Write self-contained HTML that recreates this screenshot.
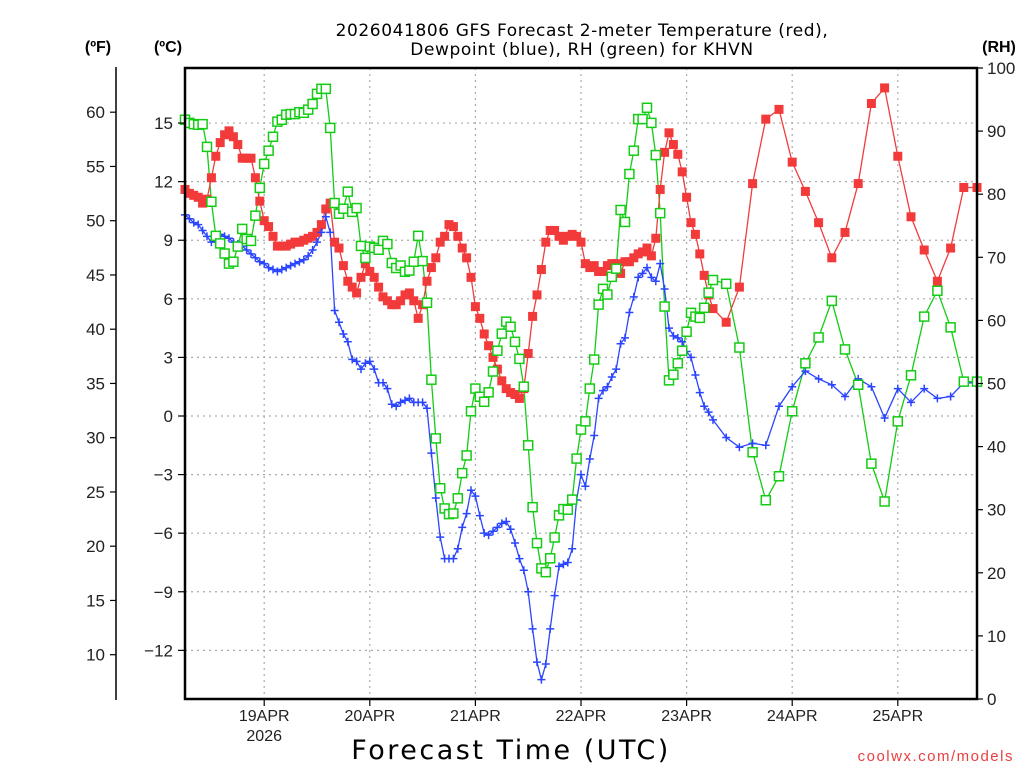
<!DOCTYPE html>
<html><head><meta charset="utf-8">
<style>
html,body{margin:0;padding:0;background:#fff;}
svg{display:block;font-family:"Liberation Sans",sans-serif;}
</style></head>
<body>
<svg id="chart" width="1024" height="768" viewBox="0 0 1024 768" xmlns="http://www.w3.org/2000/svg">
<g id="grid"></g>
<g id="series"></g>
<g id="axes"></g>
<text x="582" y="36" text-anchor="middle" font-size="17" font-family="'DejaVu Sans',sans-serif" letter-spacing="0.6" fill="#000">2026041806 GFS Forecast 2-meter Temperature (red),</text>
<text x="582" y="55" text-anchor="middle" font-size="17" font-family="'DejaVu Sans',sans-serif" letter-spacing="0.6" fill="#000">Dewpoint (blue), RH (green) for KHVN</text>
<text x="98" y="52" text-anchor="middle" font-size="16" font-weight="bold">(ºF)</text>
<text x="168" y="52" text-anchor="middle" font-size="16" font-weight="bold">(ºC)</text>
<text x="999" y="52" text-anchor="middle" font-size="16" font-weight="bold">(RH)</text>
<text x="511" y="759" text-anchor="middle" font-size="27" font-family="'DejaVu Sans',sans-serif" letter-spacing="2.5">Forecast Time (UTC)</text>
<text x="1014" y="761" text-anchor="end" font-size="15" fill="#e84040" letter-spacing="1.5">coolwx.com/models</text>
</svg>
<script>
const tempC=[11.6,11.4,11.3,11.2,10.9,11.1,12.2,13.3,14.0,14.4,14.6,14.3,13.9,13.2,13.2,13.2,12.2,11.0,10.0,9.7,9.2,8.7,8.7,8.7,8.8,8.9,8.9,9.0,9.1,9.2,9.4,9.8,10.6,10.9,8.9,8.6,7.7,6.9,6.6,6.3,7.1,7.8,7.4,7.1,6.6,6.1,5.9,5.7,5.7,5.9,6.2,6.3,5.9,5.0,5.7,6.9,7.6,8.1,8.9,9.2,9.8,9.7,9.2,8.6,8.1,7.1,5.6,5.0,4.2,3.6,3.0,2.4,1.8,1.4,1.2,1.1,0.9,1.4,3.2,5.1,6.2,7.5,8.9,9.5,9.5,9.2,9.0,9.2,9.3,9.2,8.9,7.8,7.6,7.7,7.4,7.4,7.7,7.8,7.8,7.3,7.9,7.9,8.1,8.3,8.4,8.6,8.2,9.1,11.6,13.5,14.5,13.9,13.4,12.5,11.2,9.9,9.3,8.3,7.2,6.2,5.5,
4.8,6.6,11.9,15.2,15.7,13.0,11.5,9.9,8.1,9.4,11.9,16.0,16.8,13.3,10.2,8.5,6.9,8.6,11.7,11.7];
const dewC=[10.3,10.1,9.9,9.8,9.5,9.2,8.9,9.0,9.3,9.2,9.1,8.9,8.8,8.7,8.5,8.3,8.1,7.9,7.8,7.6,7.5,7.4,7.5,7.6,7.7,7.8,7.9,8.0,8.2,8.5,8.9,9.4,10.2,9.4,5.4,4.8,4.2,3.8,2.9,2.8,2.4,2.7,2.8,2.4,1.7,1.7,1.4,0.6,0.5,0.7,0.8,0.9,0.7,0.7,0.7,0.4,-1.9,-4.2,-6.2,-7.3,-7.3,-7.3,-6.8,-5.7,-5.0,-3.8,-4.1,-5.1,-6.0,-6.1,-5.9,-5.7,-5.5,-5.4,-5.8,-6.5,-7.3,-7.9,-9.0,-10.9,-12.6,-13.5,-12.7,-10.9,-9.2,-7.7,-7.6,-7.5,-6.8,-4.3,-3.0,-3.6,-2.2,-1.0,0.9,1.3,1.5,2.0,2.4,3.7,4.0,5.3,6.1,7.1,7.3,7.6,7.1,6.9,7.8,6.5,4.5,4.1,4.0,3.8,3.3,3.0,2.1,1.2,0.5,0.2,-0.2,
-1.1,-1.6,-1.4,-1.5,0.5,1.5,2.3,1.9,1.6,1.0,1.9,1.5,-0.1,1.4,0.7,1.4,0.9,1.0,1.7,1.7];
const rhPct=[91.8,91.3,91.1,91.0,91.1,87.5,78.8,73.4,72.2,70.6,69.0,69.3,71.7,74.5,72.9,72.6,76.6,81.0,84.8,86.9,89.1,91.5,91.8,92.6,92.7,92.7,93.0,92.9,93.4,94.3,95.9,96.7,96.7,90.5,78.6,76.9,77.7,80.4,77.2,77.8,71.8,69.9,71.7,71.5,71.2,72.6,72.1,69.1,68.3,68.7,67.7,67.9,69.3,73.4,69.4,62.8,50.6,41.3,33.4,30.2,29.3,29.4,31.8,35.8,38.6,45.6,49.2,47.9,47.1,48.6,51.9,55.2,57.9,59.8,59.0,56.6,53.9,49.5,40.2,30.4,24.7,20.7,20.1,22.3,25.6,29.1,30.1,30.0,31.6,38.1,42.7,44.0,49.2,53.8,62.5,65.0,64.1,66.9,68.2,77.5,75.6,83.2,86.9,91.9,91.9,93.7,91.3,86.2,77.0,62.2,50.5,51.4,53.2,55.2,58.2,61.2,60.6,60.4,62.0,64.4,66.4,
65.8,55.7,39.1,31.5,35.3,45.6,53.2,57.3,63.1,55.4,49.8,37.3,31.3,44.0,51.3,60.6,64.7,58.9,50.3,50.3];
const dayLabels=["19APR","20APR","21APR","22APR","23APR","24APR","25APR"];
const dayHours=[18,42,66,90,114,138,162];
const cTicks=[15,12,9,6,3,0,-3,-6,-9,-12];
const fTicks=[60,55,50,45,40,35,30,25,20,15,10];
const rhTicks=[0,10,20,30,40,50,60,70,80,90,100];
const hours=[];
for(let h=0;h<=120;h++)hours.push(h);
for(let h=123;h<=180;h+=3)hours.push(h);

const NS="http://www.w3.org/2000/svg";
const L=185,R=977,T=68,B=699;
const xs=h=>L+h*(R-L)/180;
const yC=c=>416-c*19.53;
const yF=f=>yC((f-32)/1.8);
const yRH=r=>B-r*(B-T)/100;
function mk(tag,attrs,parent){const e=document.createElementNS(NS,tag);for(const k in attrs)e.setAttribute(k,attrs[k]);parent.appendChild(e);return e;}
const grid=document.getElementById('grid'),ser=document.getElementById('series'),ax=document.getElementById('axes');

cTicks.forEach(c=>{
  const l=mk('line',{x1:L,x2:R,y1:yC(c),y2:yC(c),stroke:'#aaa','stroke-width':1.2,'stroke-dasharray':'2,4'},grid);
  
  
  const t=mk('line',{x1:L-7,x2:L,y1:yC(c),y2:yC(c),stroke:'#000','stroke-width':1.2},ax);
  
  
  const tx=mk('text',{x:173,y:yC(c)+6,'text-anchor':'end','font-size':17,fill:'#222'},ax);
  tx.textContent=(c<0?'\u2212':'')+Math.abs(c);
  
  
});
dayHours.forEach((h,i)=>{
  const l=mk('line',{x1:xs(h),x2:xs(h),y1:T,y2:B,stroke:'#aaa','stroke-width':1.2,'stroke-dasharray':'2,4'},grid);
  
  
  const t=mk('line',{x1:xs(h),x2:xs(h),y1:B,y2:B+7,stroke:'#000','stroke-width':1.2},ax);
  
  
  const tx=mk('text',{x:xs(h),y:721,'text-anchor':'middle','font-size':16,fill:'#222'},ax);
  tx.textContent=dayLabels[i];
  
  
});
const yr=mk('text',{x:xs(dayHours[0]),y:741,'text-anchor':'middle','font-size':16,fill:'#222'},ax);
yr.textContent='2026';



const fl=mk('line',{x1:116,x2:116,y1:67,y2:700,stroke:'#000','stroke-width':1.5},ax);


fTicks.forEach(f=>{
  const t=mk('line',{x1:110,x2:116,y1:yF(f),y2:yF(f),stroke:'#000','stroke-width':1.2},ax);
  
  
  const tx=mk('text',{x:105,y:yF(f)+6,'text-anchor':'end','font-size':17,fill:'#222'},ax);
  tx.textContent=f;
  
  
});
rhTicks.forEach(r=>{
  const t=mk('line',{x1:R,x2:R+6,y1:yRH(r),y2:yRH(r),stroke:'#000','stroke-width':1.2},ax);
  
  
  const tx=mk('text',{x:987,y:yRH(r)+6,'font-size':17,fill:'#222'},ax);
  tx.textContent=r;
  
  
});
const frame=mk('rect',{x:L,y:T,width:R-L,height:B-T,fill:'none',stroke:'#000','stroke-width':2.5},ax);



function path(vals,yf,color){
  let d='';vals.forEach((v,i)=>{d+=(i?'L':'M')+xs(hours[i]).toFixed(1)+','+yf(v).toFixed(1);});
  return mk('path',{d:d,fill:'none',stroke:color,'stroke-width':1.3},ser);
}
const rp=path(rhPct,yRH,'#14cc14');


const dp=path(dewC,yC,'#2a45ff');


const tp=path(tempC,yC,'#f03c3c');



tempC.forEach((v,i)=>{
  const m=mk('rect',{x:xs(hours[i])-4.5,y:yC(v)-4.5,width:9,height:9,fill:'#f23a3a'},ser);
  
  
});
dewC.forEach((v,i)=>{
  const x=xs(hours[i]),y=yC(v);
  const m=mk('path',{d:`M${x-4},${y}H${x+4}M${x},${y-4}V${y+4}`,stroke:'#2a45ff','stroke-width':1.5,fill:'none'},ser);
  
  
});
rhPct.forEach((v,i)=>{
  const m=mk('rect',{x:xs(hours[i])-4.5,y:yRH(v)-4.5,width:9,height:9,fill:'#fff',stroke:'#14cc14','stroke-width':1.5},ser);
  
  
});
</script>
</body></html>
